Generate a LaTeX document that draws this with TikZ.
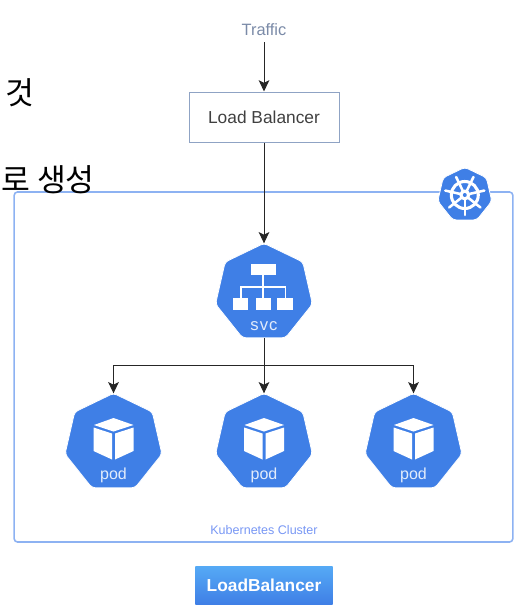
\documentclass[tikz,border=0pt]{standalone}
\usepackage{fontspec}
\setmainfont{Liberation Sans}
\newfontfamily\krfont{Noto Sans CJK KR}
\usetikzlibrary{arrows.meta,positioning,shapes.geometric}
\definecolor{kubeblue}{HTML}{3F7FE6}
\definecolor{clusterline}{HTML}{8DB2F2}
\definecolor{lbline}{HTML}{8FA3C4}
\definecolor{buttontop}{HTML}{55A9F5}
\tikzset{
  kube/.style = {regular polygon, regular polygon sides=7, fill=kubeblue, draw=white, line width=0.6pt, rounded corners=2.5pt, inner sep=0pt, outer sep=0pt, minimum size=74.5pt},
  kubetext/.style = {text=white!85!kubeblue, font=\fontsize{12}{14}\selectfont, inner sep=0pt},
  link/.style = {draw=black!85, line width=0.75pt, -{Stealth[length=8.5pt,width=8pt,inset=2pt]}},
  podcube/.pic = {
    \fill[white] (0,-25) -- (20,-18) -- (0,-11.5) -- (-19.5,-18) -- cycle;
    \fill[white] (-20,-15.5) -- (-1.5,-9.5) -- (-1.5,16.5) -- (-20,8) -- cycle;
    \fill[white] (1.5,-9.5) -- (20,-15.5) -- (20,8) -- (1.5,16.5) -- cycle;
  }
}
\begin{document}
\begin{tikzpicture}[x=0.75pt,y=-0.75pt]
\useasboundingbox (0,0) rectangle (524,615);

\node [draw=clusterline, line width=1.2pt, rounded corners=2.5pt, minimum width=374pt, minimum height=262.5pt, inner sep=0pt] (cluster) at (263.5,367) {};
\node [font=\krfont\fontsize{23.5}{26}\selectfont, inner sep=0pt] (geot) at (19.5,93) {것};
\node [font=\krfont\fontsize{23.5}{26}\selectfont, inner sep=0pt, anchor=east] (saengseong) at (95,180) {로 생성};

\node [text=lbline!85!black, font=\fontsize{12.3}{14}\selectfont, inner sep=0pt] (traffic) at (264,30) {Traffic};
\node [draw=lbline, line width=0.75pt, text=black!75, font=\fontsize{13}{15}\selectfont, minimum width=112.5pt, minimum height=37.5pt, inner sep=0pt] (balancer) at (264,117) {Load Balancer};

\node [kube] (svc) at (264,293) {};
\node [kube] (pod1) at (113.5,443) {};
\node [kube] (pod2) at (264,443) {};
\node [kube] (pod3) at (413.5,443) {};
\node [kube, minimum size=41.5pt] (helm) at (464.8,195) {};

% svc icon
\fill[white] (250.7,264.3) rectangle (276,275);
\fill[white] (233.3,298.3) rectangle (248.3,310);
\fill[white] (255.7,298.3) rectangle (270.7,310);
\fill[white] (277.3,298.3) rectangle (293.3,310);
\draw[white, line width=1.4pt] (263.3,275) -- (263.3,298.3) (240.7,298.3) |- (285.5,287.3) -- (285.5,298.3);
\node [kubetext, font=\fontsize{12.5}{14}\selectfont] (svclabel) at (264,326) {s\kern0.8pt v\kern0.8pt c};

\pic at (pod1) {podcube};
\pic at (pod2) {podcube};
\pic at (pod3) {podcube};
\node [kubetext] (podlabel1) at (113.5,475) {pod};
\node [kubetext] (podlabel2) at (264,475) {pod};
\node [kubetext] (podlabel3) at (413.5,475) {pod};

% helm wheel
\draw[white, line width=2.3pt] (helm.center) circle (13.5);
\foreach \a in {90,141.43,192.86,244.29,295.71,347.14,398.57}
  \draw[white, line width=1.9pt, line cap=round] (helm.center) -- ++(\a:20);
\fill[white] (helm.center) circle (5.5);
\fill[kubeblue] (helm.center) circle (2);

\node [text=clusterline!85!blue, font=\fontsize{9.4}{11}\selectfont, inner sep=0pt] (clusterlabel) at (264,530) {Kubernetes Cluster};
\node [top color=buttontop, bottom color=kubeblue, text=white, font=\bfseries\fontsize{13}{15}\selectfont, minimum width=103pt, minimum height=28pt, inner sep=0pt] (lbbutton) at (264,585.5) {LoadBalancer};

\coordinate (split) at (264,365);
\draw[link] ([yshift=-4.5pt]traffic.south) -- (balancer.north);
\draw[link] (balancer.south) -- (svc.north);
\draw[link] (svc.south) -- (pod2.north);
\draw[link] (split) -| (pod1.north);
\draw[link] (split) -| (pod3.north);

\end{tikzpicture}
\end{document}
